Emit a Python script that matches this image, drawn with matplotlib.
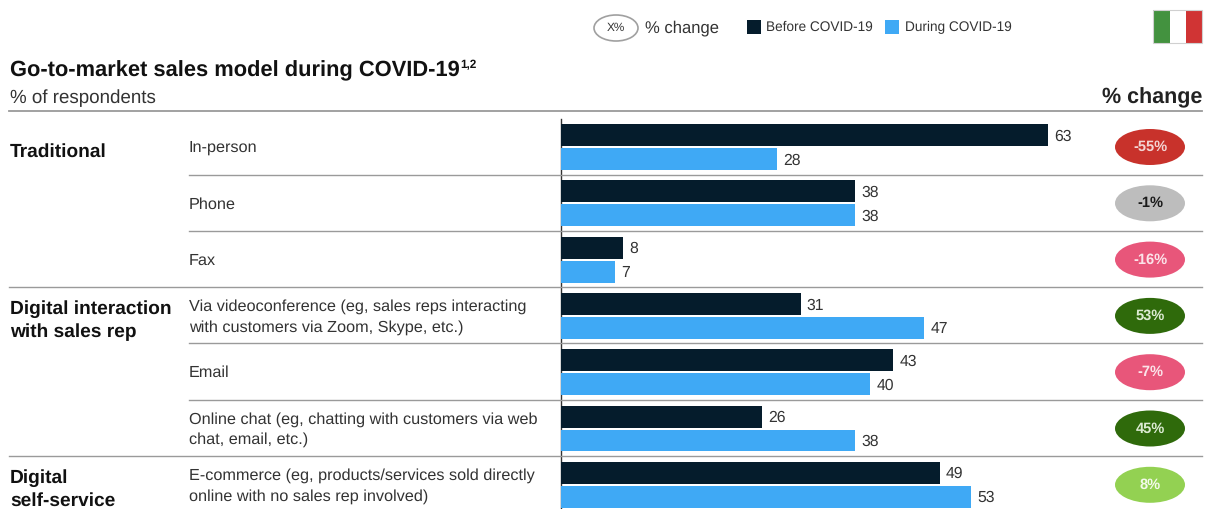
import matplotlib
matplotlib.use('Agg')
import matplotlib.pyplot as plt
from matplotlib.patches import Ellipse, Rectangle

plt.rcParams['font.family'] = ['Liberation Sans', 'DejaVu Sans']
plt.rcParams['text.hinting'] = 'none'

# Survey values
channels = ['In-person', 'Phone', 'Fax',
            'Via videoconference (eg, sales reps interacting\nwith customers via Zoom, Skype, etc.)',
            'Email',
            'Online chat (eg, chatting with customers via web\nchat, email, etc.)',
            'E-commerce (eg, products/services sold directly\nonline with no sales rep involved)']
before = [63, 38, 8, 31, 43, 26, 49]
during = [28, 38, 7, 47, 40, 38, 53]
change = ['-55%', '-1%', '-16%', '53%', '-7%', '45%', '8%']
change_fill = ['#C8322B', '#BDBDBD', '#E8567A', '#2F6A0B', '#E8567A', '#2F6A0B', '#93D152']
change_text = ['#F3D5D3', '#1A1A1A', '#FBE3E9', '#DCEBD3', '#FBE3E9', '#DCEBD3', '#F3FAEA']
groups = ['Traditional', 'Digital interaction\nwith sales rep', 'Digital\nself-service']
group_rows = [0, 3, 6]

DARK = '#051C2C'
BLUE = '#3FA9F5'
RULE = '#9A9A9A'
W, H = 1208, 509

fig = plt.figure(figsize=(W / 100, H / 100), dpi=100)

# Overlay in pixel units for text, rules and pills
page = fig.add_axes([0, 0, 1, 1])
page.set_xlim(0, W)
page.set_ylim(H, 0)
page.axis('off')

# Bars live on their own axes, one row = 56.3 px, one unit = 7.73 px
ax = fig.add_axes([561 / W, 0, 540 / W, 390 / H])
ax.set_xlim(0, 540 / 7.73)
ax.set_ylim(6.43, -0.5)
ax.axis('off')
ax.patch.set_alpha(0)

for i, (b, d) in enumerate(zip(before, during)):
    ax.barh(i - 0.213, b, height=0.39, color=DARK)
    ax.barh(i + 0.213, d, height=0.39, color=BLUE)
    ax.annotate(str(b), (b, i - 0.213), xytext=(4.5, -1), textcoords='offset points',
                va='center', fontsize=11.3, color='#333333')
    ax.annotate(str(d), (d, i + 0.213), xytext=(4.5, -1), textcoords='offset points',
                va='center', fontsize=11.3, color='#333333')

# Rules
page.plot([9, 1202], [111, 111], color=RULE, lw=1.3)
page.plot([561, 561], [119, 509], color='#333333', lw=1)
for y in [175, 231, 287, 343, 400, 456]:
    left = 9 if y in (287, 456) else 189
    page.plot([left, 1202], [y, y], color=RULE, lw=1)

# Titles
page.text(10, 71, 'Go-to-market sales model during COVID-19', fontsize=15.75,
          fontweight='bold', va='center', color='#111111')
page.text(460, 65, '1,2', fontsize=8.5, fontweight='bold', va='center', color='#111111')
page.text(10, 98, '% of respondents', fontsize=13.5, va='center', color='#333333')
page.text(1202, 98, '% change', fontsize=15.5, fontweight='bold', va='center',
          ha='right', color='#222222')

# Row labels and change pills
for i, label in enumerate(channels):
    yc = 147 + 56.3 * i
    page.text(189, yc + 1, label, fontsize=11.7, va='center', color='#333333', linespacing=1.5)
    page.add_patch(Ellipse((1150, yc), 70, 36, facecolor=change_fill[i], edgecolor='none'))
    page.text(1150, yc, change[i], fontsize=10.5, fontweight='bold', ha='center',
              va='center', color=change_text[i])

for name, row in zip(groups, group_rows):
    page.text(10, 147 + 56.3 * row + 5, name, fontsize=13.8, fontweight='bold', va='center',
              color='#111111', linespacing=1.37)

# Legend
page.add_patch(Ellipse((616, 28), 44, 26, facecolor='white', edgecolor='#A0A0A0', lw=1.2))
page.text(616, 28, 'X%', fontsize=8.5, ha='center', va='center', color='#333333')
page.text(645, 28, '% change', fontsize=12, va='center', color='#333333')
page.add_patch(Rectangle((747, 20), 14, 14, facecolor=DARK))
page.text(766, 27, 'Before COVID-19', fontsize=9.8, va='center', color='#333333')
page.add_patch(Rectangle((885, 20), 14, 14, facecolor=BLUE))
page.text(905, 27, 'During COVID-19', fontsize=9.8, va='center', color='#333333')

# Italian flag
page.add_patch(Rectangle((1153, 10), 17, 33, facecolor='#43923F'))
page.add_patch(Rectangle((1170, 10), 16, 33, facecolor='white'))
page.add_patch(Rectangle((1186, 10), 16, 33, facecolor='#D03434'))
page.add_patch(Rectangle((1153, 10), 49, 33, fill=False, edgecolor='#D0D0D0', lw=0.8))

fig.savefig('out.png', dpi=100)
plt.close()
